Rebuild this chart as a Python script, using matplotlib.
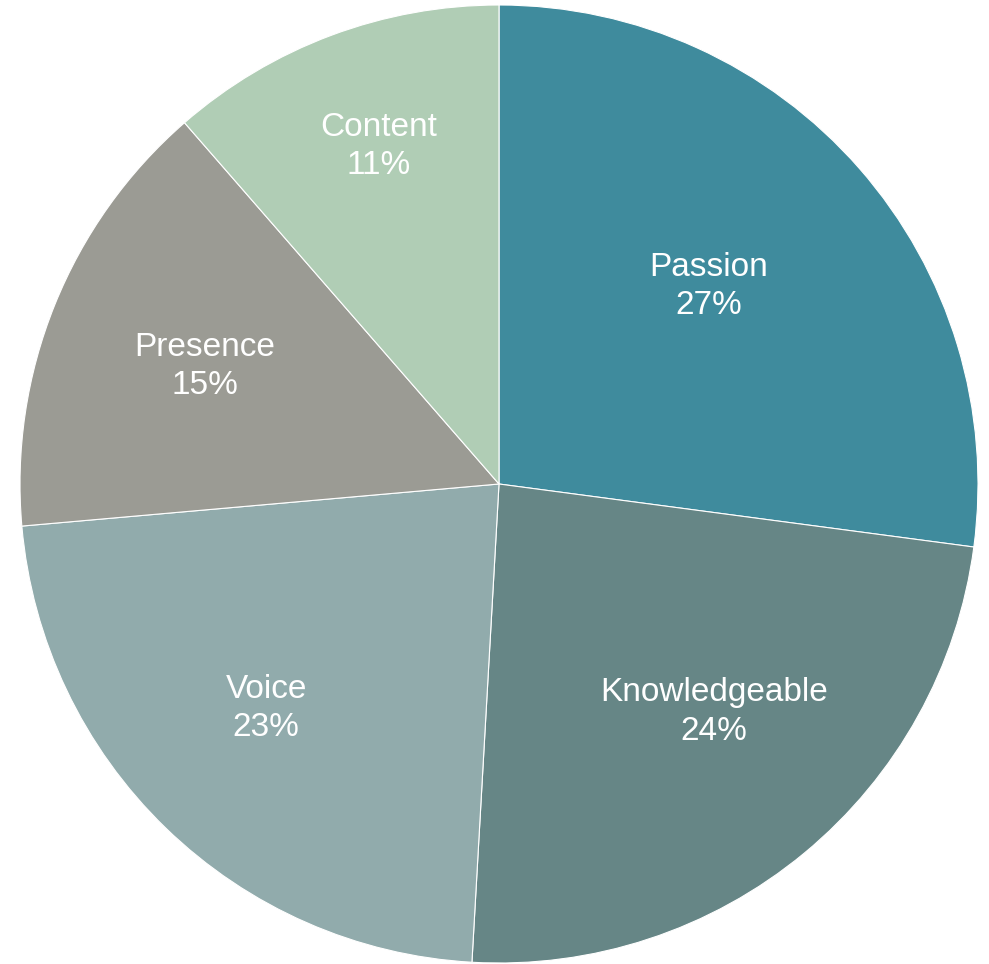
import matplotlib
matplotlib.use("Agg")
import matplotlib.pyplot as plt

# slice data, clockwise from 12 o'clock
labels = ["Passion", "Knowledgeable", "Voice", "Presence", "Content"]
shares = [27.1, 23.8, 22.7, 15.0, 11.4]
shown_pct = [27, 24, 23, 15, 11]

colors = ["#3F8B9D", "#668686", "#91ABAC", "#9B9B94", "#B0CDB5"]
# where the labels sit inside each wedge (pie radius = 1)
label_pos = [(0.438, 0.413), (0.449, -0.476), (-0.486, -0.468),
             (-0.614, 0.246), (-0.251, 0.704)]

plt.rcParams['font.family'] = ['Liberation Sans', 'DejaVu Sans']

W, H = 989, 964
fig = plt.figure(figsize=(W / 100, H / 100), dpi=100)
cx, cy, R = 499, 484, 479
ax = fig.add_axes([(cx - R) / W, (H - cy - R) / H, 2 * R / W, 2 * R / H])

ax.pie(shares, colors=colors, startangle=90, counterclock=False,
       wedgeprops=dict(edgecolor='white', linewidth=0.8))

for name, pct, (x, y) in zip(labels, shown_pct, label_pos):
    ax.text(x, y, f"{name}\n{pct}%", ha='center', va='center',
            color='white', fontsize=24, linespacing=1.3)

ax.set_xlim(-1, 1)
ax.set_ylim(-1, 1)
ax.set_aspect('equal')
ax.axis('off')

fig.savefig("out.png", dpi=100)
